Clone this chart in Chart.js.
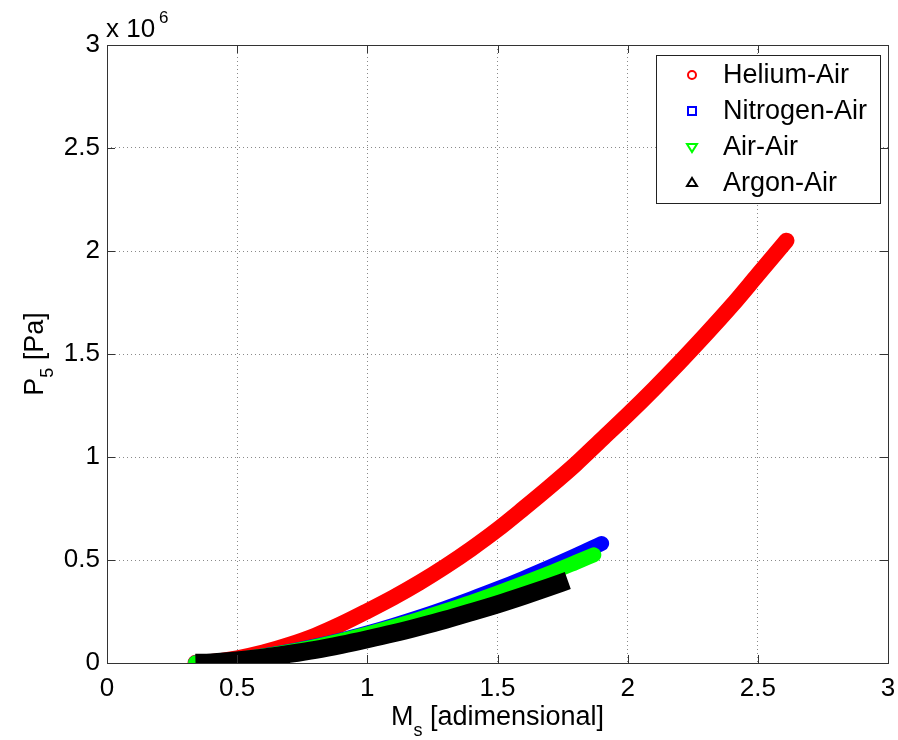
<!DOCTYPE html>
<html>
<head>
<meta charset="utf-8">
<script src="https://cdn.jsdelivr.net/npm/chart.js@4"></script>
<style>
  body { margin: 0; background: #fff; }
  #wrap { width: 898px; height: 740px; }
</style>
</head>
<body>
<div id="wrap"><canvas id="myChart" width="898" height="740"></canvas></div>
<script>
// P5 in units of 10^6 Pa
const machHelium = [0.34, 0.4, 0.5, 0.6, 0.7, 0.8, 0.9, 1.0, 1.1, 1.2, 1.3, 1.4, 1.5, 1.6, 1.7, 1.8, 1.9, 2.0, 2.1, 2.2, 2.3, 2.4, 2.5, 2.61];
const p5Helium = [0.001, 0.005, 0.023, 0.051, 0.088, 0.133, 0.189, 0.252, 0.318, 0.39, 0.469, 0.555, 0.648, 0.75, 0.855, 0.965, 1.085, 1.205, 1.33, 1.46, 1.595, 1.735, 1.885, 2.05];

const machNitrogen = [0.34, 0.4, 0.5, 0.6, 0.7, 0.8, 0.9, 1.0, 1.1, 1.2, 1.3, 1.4, 1.5, 1.6, 1.7, 1.8, 1.9];
const p5Nitrogen = [0.001, 0.004, 0.016, 0.034, 0.056, 0.082, 0.112, 0.146, 0.183, 0.223, 0.266, 0.312, 0.36, 0.411, 0.465, 0.521, 0.58];

const machAir = [0.34, 0.4, 0.5, 0.6, 0.7, 0.8, 0.9, 1.0, 1.1, 1.2, 1.3, 1.4, 1.5, 1.6, 1.7, 1.8, 1.87];
const p5Air = [0.001, 0.004, 0.016, 0.034, 0.055, 0.08, 0.109, 0.141, 0.176, 0.213, 0.253, 0.295, 0.34, 0.387, 0.436, 0.488, 0.525];

const machArgon = [0.34, 0.4, 0.5, 0.6, 0.7, 0.8, 0.9, 1.0, 1.1, 1.2, 1.3, 1.4, 1.5, 1.6, 1.7, 1.77];
const p5Argon = [0.001, 0.003, 0.012, 0.026, 0.044, 0.064, 0.088, 0.115, 0.144, 0.176, 0.21, 0.247, 0.285, 0.326, 0.369, 0.40];

const seriesNames = ['Helium-Air', 'Nitrogen-Air', 'Air-Air', 'Argon-Air'];
const seriesColors = ['#ff0000', '#0000ff', '#00ff00', '#000000'];
const xTicks = [0, 0.5, 1, 1.5, 2, 2.5, 3];
const yTicks = [0, 0.5, 1, 1.5, 2, 2.5, 3];

const FONT = '"Liberation Sans", Arial, sans-serif';

function toPoints(xs, ys){
    return xs.map(function(x, i){ return {x: x, y: ys[i]}; });
}

function makeSet(i, xs, ys, cap, width){
    return {
        label: seriesNames[i],
        data: toPoints(xs, ys),
        borderColor: seriesColors[i],
        backgroundColor: seriesColors[i],
        borderWidth: width,
        borderCapStyle: cap,
        borderJoinStyle: 'round',
        pointRadius: 0,
        cubicInterpolationMode: 'monotone',
        order: 4 - i
    };
}

// box, inner ticks, titles, exponent and legend, MATLAB style
const matlabPlugin = {
    id: 'matlab',
    afterDraw(chart){
        const ctx = chart.ctx;
        const a = chart.chartArea;
        const xs = chart.scales.x, ys = chart.scales.y;
        ctx.save();
        ctx.strokeStyle = '#333';
        ctx.lineWidth = 1;
        ctx.beginPath();
        xTicks.forEach(function(t){
            const px = Math.round(xs.getPixelForValue(t)) + 0.5;
            ctx.moveTo(px, a.bottom); ctx.lineTo(px, a.bottom - 8);
            ctx.moveTo(px, a.top); ctx.lineTo(px, a.top + 8);
        });
        yTicks.forEach(function(t){
            const py = Math.round(ys.getPixelForValue(t)) + 0.5;
            ctx.moveTo(a.left, py); ctx.lineTo(a.left + 8, py);
            ctx.moveTo(a.right, py); ctx.lineTo(a.right - 8, py);
        });
        ctx.stroke();
        ctx.strokeRect(Math.round(a.left) + 0.5, Math.round(a.top) + 0.5, Math.round(a.right - a.left), Math.round(a.bottom - a.top));

        ctx.fillStyle = '#000';
        ctx.textBaseline = 'alphabetic';
        // exponent
        ctx.font = '26px ' + FONT;
        ctx.textAlign = 'left';
        ctx.fillText('x 10', 106, 37);
        ctx.font = '17px ' + FONT;
        ctx.fillText('6', 159, 23);

        // x title
        ctx.font = '27px ' + FONT;
        const cx = (a.left + a.right) / 2;
        const w1 = ctx.measureText('M').width;
        const w3 = ctx.measureText(' [adimensional]').width;
        ctx.font = '18px ' + FONT;
        const w2 = ctx.measureText('s').width;
        let x0 = cx - (w1 + w2 + w3) / 2;
        ctx.font = '27px ' + FONT;
        ctx.fillText('M', x0, 725);
        ctx.font = '18px ' + FONT;
        ctx.fillText('s', x0 + w1, 736);
        ctx.font = '27px ' + FONT;
        ctx.fillText(' [adimensional]', x0 + w1 + w2, 725);

        // y title
        ctx.save();
        ctx.translate(43, (a.top + a.bottom) / 2);
        ctx.rotate(-Math.PI / 2);
        ctx.font = '27px ' + FONT;
        const v1 = ctx.measureText('P').width;
        const v3 = ctx.measureText(' [Pa]').width;
        ctx.font = '18px ' + FONT;
        const v2 = ctx.measureText('5').width;
        x0 = -(v1 + v2 + v3) / 2;
        ctx.font = '27px ' + FONT;
        ctx.fillText('P', x0, 0);
        ctx.font = '18px ' + FONT;
        ctx.fillText('5', x0 + v1, 10);
        ctx.font = '27px ' + FONT;
        ctx.fillText(' [Pa]', x0 + v1 + v2, 0);
        ctx.restore();

        // legend
        ctx.fillStyle = '#fff';
        ctx.fillRect(656, 55, 224, 148);
        ctx.strokeStyle = '#222';
        ctx.strokeRect(656.5, 55.5, 224, 148);
        const rows = [75, 111, 147, 183];
        ctx.lineWidth = 2;
        seriesNames.forEach(function(name, i){
            const my = rows[i], mx = 692;
            ctx.strokeStyle = seriesColors[i];
            ctx.beginPath();
            if (i === 0) {
                ctx.arc(mx, my, 4, 0, Math.PI * 2);
            } else if (i === 1) {
                ctx.rect(mx - 4, my - 4, 8, 8);
            } else if (i === 2) {
                ctx.moveTo(mx - 5, my - 3); ctx.lineTo(mx + 5, my - 3); ctx.lineTo(mx, my + 5); ctx.closePath();
            } else {
                ctx.moveTo(mx - 5, my + 3); ctx.lineTo(mx + 5, my + 3); ctx.lineTo(mx, my - 5); ctx.closePath();
            }
            ctx.stroke();
            ctx.fillStyle = '#000';
            ctx.font = '27px ' + FONT;
            ctx.textBaseline = 'middle';
            ctx.fillText(name, 723, my + 1);
        });
        ctx.restore();
    }
};

const data = {
    datasets: [
        makeSet(0, machHelium, p5Helium, 'round', 16),
        makeSet(1, machNitrogen, p5Nitrogen, 'round', 15),
        makeSet(2, machAir, p5Air, 'round', 15),
        makeSet(3, machArgon, p5Argon, 'butt', 18)
    ]
};

const config = {
    type: 'line',
    data: data,
    plugins: [matlabPlugin],
    options: {
        responsive: false,
        animation: false,
        layout: {padding: {left: 0, right: 10, top: 45, bottom: 0}},
        plugins: {legend: {display: false}, tooltip: {enabled: false}},
        scales: {
            x: {
                type: 'linear', min: 0, max: 3,
                afterFit: function(s){ s.height = 77; s.paddingLeft = 0; s.paddingRight = 0; },
                afterBuildTicks: function(s){ s.ticks = xTicks.map(function(v){ return {value: v}; }); },
                grid: {color: '#8a8a8a', drawTicks: false},
                border: {display: false, dash: [1, 3]},
                ticks: {font: {family: FONT, size: 26}, color: '#000', padding: 10, maxRotation: 0,
                        callback: function(v){ return String(v); }}
            },
            y: {
                type: 'linear', min: 0, max: 3,
                afterFit: function(s){ s.width = 107; s.paddingTop = 0; s.paddingBottom = 0; },
                afterBuildTicks: function(s){ s.ticks = yTicks.map(function(v){ return {value: v}; }); },
                grid: {color: '#8a8a8a', drawTicks: false},
                border: {display: false, dash: [1, 3]},
                ticks: {font: {family: FONT, size: 26}, color: '#000', padding: 7,
                        callback: function(v){ return String(v); }}
            }
        }
    }
};

const ctx = document.getElementById('myChart').getContext('2d');
const myChart = new Chart(ctx, config);
</script>
</body>
</html>
